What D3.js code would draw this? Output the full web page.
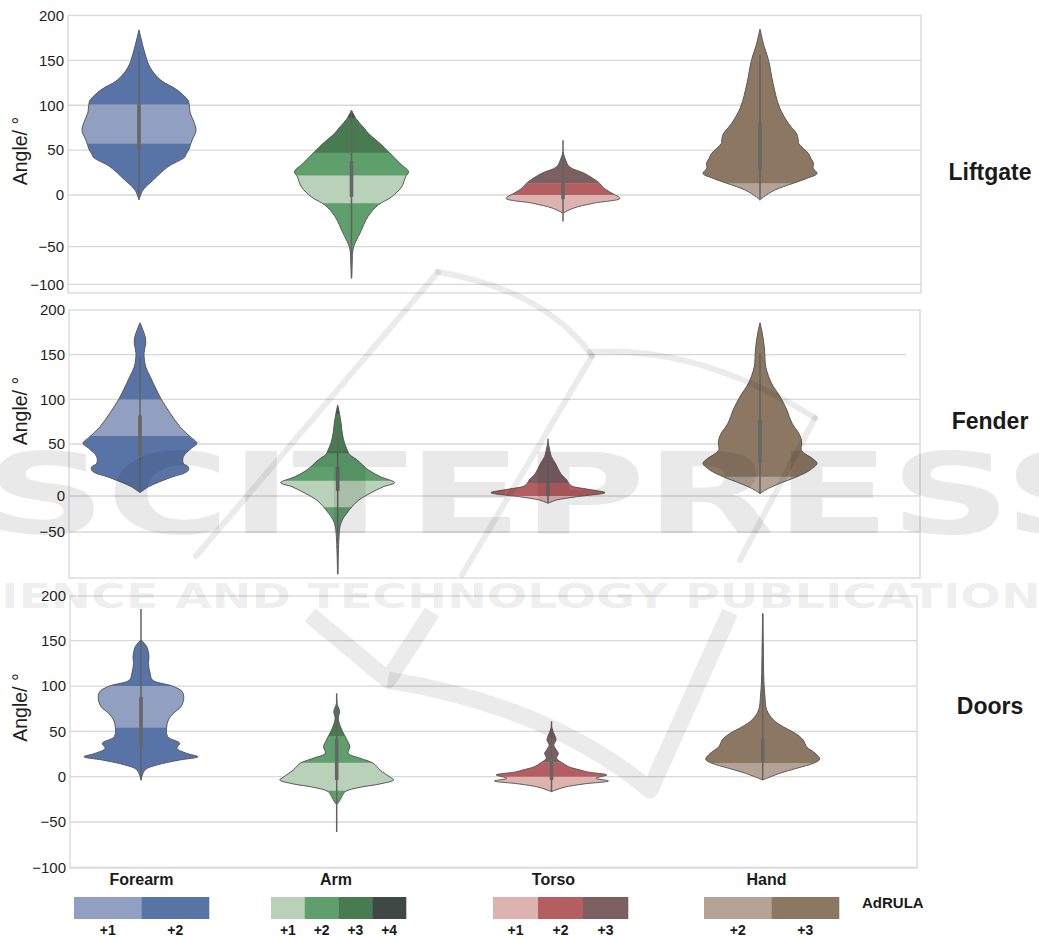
<!DOCTYPE html>
<html>
<head>
<meta charset="utf-8">
<script src="https://cdn.jsdelivr.net/npm/d3@7"></script>
<style>
  body { margin: 0; background: #fff; }
  svg { display: block; font-family: "Liberation Sans", Arial, sans-serif; }
</style>
</head>
<body>
<svg id="chart" width="1039" height="938"></svg>
<script>
// ---------------- data ----------------
const panels = ["Liftgate", "Fender", "Doors"];
const parts = ["Forearm", "Arm", "Torso", "Hand"];
const angleTicks = [200, 150, 100, 50, 0, -50, -100];
const fenderTicks = [200, 150, 100, 50, 0, -50];

const forearmScores = ["+1", "+2"];
const armScores = ["+1", "+2", "+3", "+4"];
const torsoScores = ["+1", "+2", "+3"];
const handScores = ["+2", "+3"];

// violin profiles: [angle in degrees, density relative to the widest point]
const liftgateForearm = [[-4.8,0],[5.5,0.07],[16.7,0.25],[31.5,0.51],[42,0.8],[46,0.83],[50,0.87],[61,0.93],[72,1.0],[82,0.96],[91,0.9],[101,0.88],[105.5,0.86],[117,0.67],[128,0.38],[142.6,0.19],[161,0.09],[184,0]];
const liftgateArm = [[-92,0],[-75,0.01],[-58,0.02],[-49.7,0.04],[-36.8,0.15],[-20.8,0.29],[-9.6,0.47],[-2,0.7],[9.2,0.88],[20.3,0.95],[26,1.0],[35.2,0.85],[47.4,0.66],[57.4,0.5],[68.5,0.3],[76,0.2],[85,0.08],[94.4,0]];
const liftgateTorso = [[-17.6,0],[-12.8,0.18],[-8,0.53],[-3.2,1.0],[1.9,0.86],[7.5,0.72],[13.7,0.63],[24,0.38],[31.5,0.11],[40,0.04],[48,0]];
const liftgateHand = [[-5,0],[-2,0.06],[5.5,0.26],[13,0.58],[18.5,0.82],[24,1.0],[30,0.93],[35.2,0.94],[40,0.9],[46.3,0.85],[57.4,0.68],[62,0.67],[68.5,0.64],[79.6,0.5],[98,0.34],[124,0.23],[150,0.15],[168.5,0.06],[185,0]];

const fenderForearm = [[3.2,0],[8.9,0.15],[13.8,0.35],[18.6,0.58],[22,0.78],[25,0.85],[28,0.85],[31.4,0.76],[37.8,0.76],[45.9,0.9],[50.8,1.0],[58.2,0.88],[69.4,0.7],[84.4,0.53],[99.3,0.38],[110.4,0.29],[125.3,0.18],[136.5,0.1],[151.5,0.07],[162.7,0.1],[170.1,0.09],[185.8,0]];
const fenderArm = [[-104,0],[-61,0.02],[-42.6,0.04],[-33.3,0.08],[-24,0.16],[-14.9,0.25],[-5.6,0.37],[2.6,0.57],[8.9,0.8],[12.8,1.0],[18.6,0.75],[25,0.54],[34.6,0.34],[40.3,0.2],[44,0.17],[50.8,0.12],[62,0.08],[73.2,0.06],[84.4,0.03],[93.7,0]];
const fenderTorso = [[-10.1,0],[-5.6,0.15],[-1,0.5],[3.2,1.0],[6.5,0.7],[9.5,0.42],[12.5,0.36],[15.4,0.33],[21.8,0.22],[31.4,0.13],[37.8,0.06],[47,0.02],[52,0]];
const fenderHand = [[2.6,0],[7.4,0.15],[12.2,0.35],[18.6,0.65],[25,0.88],[31.4,1.0],[36,0.92],[41,0.78],[45,0.72],[50,0.73],[56,0.72],[62,0.68],[73.4,0.56],[88.3,0.47],[103.2,0.35],[118.2,0.2],[136.8,0.1],[155.5,0.08],[174.1,0.04],[185.8,0]];

const doorsForearm = [[-3.6,0],[7.4,0.07],[12.9,0.28],[18.4,0.68],[22,1.0],[25.8,0.8],[31.3,0.63],[36.8,0.68],[44,0.47],[54.5,0.45],[62.5,0.48],[70,0.57],[77.2,0.7],[86.5,0.75],[94,0.72],[100,0.55],[106.6,0.2],[114,0.16],[125,0.13],[132.4,0.14],[143.4,0.1],[151,0]];
const doorsArm = [[-31,0],[-27.6,0.04],[-22,0.09],[-16.5,0.15],[-11.7,0.41],[-8,0.76],[-3.6,1.0],[-0.7,0.94],[7.4,0.76],[14.8,0.64],[20.3,0.41],[25.8,0.2],[33,0.23],[40.5,0.18],[51.5,0.09],[62.5,0.03],[66,0.03],[71,0.05],[75,0.04],[79,0.01],[84,0]];
const doorsTorso = [[-16.5,0],[-11.7,0.22],[-8,0.57],[-4.7,1.0],[-1.8,0.78],[1.9,0.97],[5,0.65],[7.4,0.5],[11,0.3],[14.8,0.2],[20.3,0.09],[25.8,0.12],[30,0.08],[35,0.04],[40.5,0.08],[47.9,0.04],[55,0]];
const doorsHand = [[-3.6,0],[3.7,0.3],[9.3,0.6],[14.8,0.89],[19.2,1.0],[25.8,0.92],[33,0.77],[40.5,0.71],[47.9,0.57],[55,0.36],[62.5,0.19],[73.6,0.07],[88,0.04],[106.6,0.02],[143,0.01],[180,0]];

// AdRULA score bands: [from angle, to angle, score]
const liftgateForearmBands = [[-200,57,"+2"],[57,101,"+1"],[101,250,"+2"]];
const liftgateArmBands = [[-200,-8,"+2"],[-8,22,"+1"],[22,47,"+2"],[47,86,"+3"],[86,250,"+4"]];
const liftgateTorsoBands = [[-200,0,"+1"],[0,13,"+2"],[13,250,"+3"]];
const liftgateHandBands = [[-200,13,"+2"],[13,250,"+3"]];

const fenderForearmBands = [[-200,59,"+2"],[59,100,"+1"],[100,250,"+2"]];
const fenderArmBands = [[-200,-15.7,"+2"],[-15.7,14.8,"+1"],[14.8,41,"+2"],[41,84,"+3"],[84,250,"+4"]];
const fenderTorsoBands = [[-200,0,"+1"],[0,12.5,"+2"],[12.5,250,"+3"]];
const fenderHandBands = [[-200,18.5,"+2"],[18.5,250,"+3"]];

const doorsForearmBands = [[-200,54,"+2"],[54,100,"+1"],[100,250,"+2"]];
const doorsArmBands = [[-200,-15.5,"+2"],[-15.5,15.5,"+1"],[15.5,45,"+2"],[45,250,"+3"]];
const doorsTorsoBands = [[-200,0,"+1"],[0,15.5,"+2"],[15.5,250,"+3"]];
const doorsHandBands = [[-200,15,"+2"],[15,250,"+3"]];

// inner box: [lower whisker, Q1, Q3, upper whisker]
const liftgateBoxes = [[-3,50,101,160],[-92,-1.8,38,94],[-25.6,-4,13,61],[-4,28,80,156]];
const fenderBoxes = [[5,38,82,148],[-104,5,28,62],[-10,0,12,56],[2,32,77,152]];
const doorsBoxes = [[-4,33,88,185],[-61,-3.6,42,92],[-17,-3.6,22,61],[-3.6,16.5,42,180]];

// ---------------- styles ----------------
const partColors = {
  Forearm: { "+1": "#919fc1", "+2": "#5874a6" },
  Arm:     { "+1": "#b9d0b9", "+2": "#5e9f6c", "+3": "#487b50", "+4": "#404845" },
  Torso:   { "+1": "#dcb3ae", "+2": "#b55e61", "+3": "#7b5f61" },
  Hand:    { "+2": "#b4a294", "+3": "#8c7763" }
};
const scoresByPart = { Forearm: forearmScores, Arm: armScores, Torso: torsoScores, Hand: handScores };

const profilesByPanel = {
  Liftgate: [liftgateForearm, liftgateArm, liftgateTorso, liftgateHand],
  Fender:   [fenderForearm, fenderArm, fenderTorso, fenderHand],
  Doors:    [doorsForearm, doorsArm, doorsTorso, doorsHand]
};
const bandsByPanel = {
  Liftgate: [liftgateForearmBands, liftgateArmBands, liftgateTorsoBands, liftgateHandBands],
  Fender:   [fenderForearmBands, fenderArmBands, fenderTorsoBands, fenderHandBands],
  Doors:    [doorsForearmBands, doorsArmBands, doorsTorsoBands, doorsHandBands]
};
const boxesByPanel = { Liftgate: liftgateBoxes, Fender: fenderBoxes, Doors: doorsBoxes };

// ---------------- layout ----------------
const layout = {
  Liftgate: { x0: 68, x1: 921, top: 15.5, bottom: 293,
              yDomain: [-100, -50, 0, 200], yRange: [284.3, 246.7, 195, 15.5],
              ticks: angleTicks, centers: [139, 351.5, 563, 760], titleY: 180, labelY: 151,
              gridEnd: {} },
  Fender:   { x0: 69, x1: 920, top: 310, bottom: 578,
              yDomain: [-100, -50, 0, 50, 200], yRange: [571, 532, 496, 444, 310],
              ticks: fenderTicks, centers: [140, 337.7, 548, 760], titleY: 429, labelY: 411,
              gridEnd: { 150: 906 } },
  Doors:    { x0: 70, x1: 917, top: 596, bottom: 868,
              yDomain: [-100, 200], yRange: [867.3, 595.4],
              ticks: angleTicks, centers: [141, 336.7, 551.5, 762.7], titleY: 714, labelY: 707.5,
              gridEnd: {} }
};

const svg = d3.select("#chart");
const defs = svg.append("defs");
const gridColor = "#d8d8d8";
const halfWidth = d3.scaleLinear().domain([0, 1]).range([0, 57]);

function drawViolin(g, y, cx, profile, bands, colors, box, id) {
  const area = d3.area()
    .curve(d3.curveCatmullRom.alpha(0.5))
    .y(d => y(d[0]))
    .x0(d => cx - halfWidth(d[1]))
    .x1(d => cx + halfWidth(d[1]));
  const path = area(profile);

  // base fill, then each further score band clipped to its angle range
  g.append("path").attr("d", path).attr("fill", colors[bands[0][2]]);
  bands.slice(1).forEach((b, i) => {
    const cid = `${id}-band${i}`;
    const yTop = y(b[1]), yBot = y(b[0]);
    defs.append("clipPath").attr("id", cid)
      .append("rect")
      .attr("x", cx - 80).attr("width", 160)
      .attr("y", yTop).attr("height", yBot - yTop);
    g.append("path").attr("d", path)
      .attr("fill", colors[b[2]])
      .attr("clip-path", `url(#${cid})`);
  });
  g.append("path").attr("d", path)
    .attr("fill", "none").attr("stroke", "#5c5c5c").attr("stroke-width", 1);

  // inner box: whisker and interquartile bar
  g.append("line")
    .attr("x1", cx).attr("x2", cx)
    .attr("y1", y(box[0])).attr("y2", y(box[3]))
    .attr("stroke", "#626262").attr("stroke-width", 1.5);
  g.append("line")
    .attr("x1", cx).attr("x2", cx)
    .attr("y1", y(box[1])).attr("y2", y(box[2]))
    .attr("stroke", "#666").attr("stroke-width", 3.6);
}

panels.forEach(name => {
  const L = layout[name];
  const y = d3.scaleLinear().domain(L.yDomain).range(L.yRange);
  const x = d3.scaleOrdinal().domain(parts).range(L.centers);
  const g = svg.append("g");

  // frame
  g.append("rect")
    .attr("x", L.x0).attr("y", L.top)
    .attr("width", L.x1 - L.x0).attr("height", L.bottom - L.top)
    .attr("fill", "none").attr("stroke", gridColor).attr("stroke-width", 1.3);

  // gridlines
  g.selectAll(".grid").data(L.ticks.filter(t => t < 200)).enter()
    .append("line")
    .attr("x1", L.x0).attr("x2", d => L.gridEnd[d] || L.x1)
    .attr("y1", d => y(d)).attr("y2", d => y(d))
    .attr("stroke", gridColor).attr("stroke-width", 1.3);

  // angle axis
  const axis = d3.axisLeft(y).tickValues(L.ticks).tickSize(0).tickPadding(3).tickFormat(d3.format("d"));
  const ax = g.append("g").attr("transform", `translate(${L.x0 - 1},0)`).call(axis);
  ax.select(".domain").remove();
  ax.selectAll("text")
    .attr("font-family", "'Liberation Sans', Arial, sans-serif")
    .attr("font-size", 15).attr("fill", "#1e1e1e");

  g.append("text")
    .attr("transform", `translate(27,${L.labelY}) rotate(-90)`)
    .attr("text-anchor", "middle")
    .attr("font-size", 19.5).attr("fill", "#1e1e1e")
    .text("Angle/ °");

  // violins
  parts.forEach((p, i) => {
    drawViolin(g, y, x(p), profilesByPanel[name][i], bandsByPanel[name][i],
               partColors[p], boxesByPanel[name][i], `${name}-${p}`);
  });

  // panel title on the right
  g.append("text")
    .attr("x", 990).attr("y", L.titleY)
    .attr("text-anchor", "middle")
    .attr("font-size", 23).attr("font-weight", "bold").attr("fill", "#1a1a1a")
    .text(name);
});

// ---------------- part labels and score legend ----------------
const labelCenters = d3.scaleOrdinal().domain(parts).range([141.5, 336, 553.5, 766.5]);
const legendStart = d3.scaleOrdinal().domain(parts).range([74, 271, 493, 704]);
const legendWidth = 135;

parts.forEach(p => {
  svg.append("text")
    .attr("x", labelCenters(p)).attr("y", 885)
    .attr("text-anchor", "middle")
    .attr("font-size", 16).attr("font-weight", "bold").attr("fill", "#1a1a1a")
    .text(p);

  const scores = scoresByPart[p];
  const sx = d3.scaleBand().domain(scores)
    .range([legendStart(p), legendStart(p) + legendWidth]).padding(0);
  const lg = svg.append("g");
  lg.selectAll("rect").data(scores).enter().append("rect")
    .attr("x", d => sx(d)).attr("y", 897)
    .attr("width", sx.bandwidth() + 0.3).attr("height", 22)
    .attr("fill", d => partColors[p][d]);
  lg.selectAll("text").data(scores).enter().append("text")
    .attr("x", d => sx(d) + sx.bandwidth() / 2).attr("y", 935)
    .attr("text-anchor", "middle")
    .attr("font-size", 14).attr("font-weight", "bold").attr("fill", "#1a1a1a")
    .text(d => d);
});

svg.append("text")
  .attr("x", 862).attr("y", 908)
  .attr("font-size", 15).attr("font-weight", "bold").attr("fill", "#1a1a1a")
  .text("AdRULA");

// ---------------- publisher watermark overlay ----------------
const wm = svg.append("g").attr("pointer-events", "none");
wm.append("text")
  .attr("x", -15).attr("y", 533)
  .attr("textLength", 1140).attr("lengthAdjust", "spacingAndGlyphs")
  .attr("font-family", "'DejaVu Sans', sans-serif").attr("font-weight", "bold")
  .attr("font-size", 112)
  .attr("fill", "#000").attr("fill-opacity", 0.085)
  .text("SCITEPRESS");
wm.append("text")
  .attr("x", -68).attr("y", 608)
  .attr("textLength", 1143).attr("lengthAdjust", "spacingAndGlyphs")
  .attr("font-family", "'DejaVu Sans', sans-serif").attr("font-weight", "bold")
  .attr("font-size", 34)
  .attr("fill", "#000").attr("fill-opacity", 0.085)
  .text("SCIENCE AND TECHNOLOGY PUBLICATIONS");

const logoThin = [
  "M196,556 L438,272",
  "M438,272 Q545,290 592,356",
  "M592,356 L462,575",
  "M590,352 Q700,345 815,418",
  "M815,418 L740,560"
];
wm.selectAll(".thin").data(logoThin).enter().append("path")
  .attr("d", d => d).attr("fill", "none")
  .attr("stroke", "#000").attr("stroke-opacity", 0.08).attr("stroke-width", 6)
  .attr("stroke-linecap", "round");
const logoThick = [
  "M310,615 L388,680 L432,612",
  "M388,680 C450,690 560,715 650,790 L730,612"
];
wm.selectAll(".thick").data(logoThick).enter().append("path")
  .attr("d", d => d).attr("fill", "none")
  .attr("stroke", "#000").attr("stroke-opacity", 0.08).attr("stroke-width", 17)
  .attr("stroke-linejoin", "round");
</script>
</body>
</html>
